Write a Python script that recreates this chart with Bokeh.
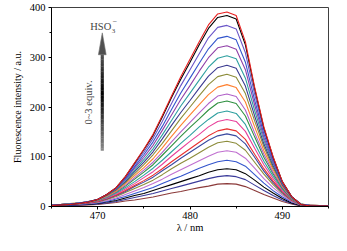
from bokeh.plotting import figure
from bokeh.models import FixedTicker, Label, Range1d
from bokeh.embed import file_html
from bokeh.resources import INLINE

wavelength = list(range(465, 496))

# Fluorescence spectra, from 0 equiv. (bottom) to 3 equiv. (top) HSO3-
c01 = [1, 1, 2, 2, 3, 4, 6, 8, 11, 13, 16, 19, 23, 27, 30, 34, 38, 41, 45, 46, 45, 40, 32, 24, 17, 10, 5, 1, 1, 1, 1]
c02 = [1, 2, 2, 3, 4, 5, 7, 10, 14, 18, 22, 26, 31, 36, 41, 46, 51, 56, 60, 62, 60, 54, 43, 32, 22, 13, 6, 2, 1, 1, 1]
c03 = [1, 2, 3, 4, 4, 6, 9, 12, 17, 22, 26, 32, 38, 44, 50, 56, 62, 69, 74, 76, 74, 66, 53, 39, 27, 16, 7, 2, 1, 1, 1]
c04 = [2, 3, 3, 4, 5, 7, 10, 15, 20, 26, 32, 38, 46, 54, 61, 69, 77, 84, 90, 93, 90, 81, 64, 47, 32, 19, 9, 3, 2, 2, 2]
c05 = [2, 3, 4, 5, 6, 8, 12, 17, 24, 31, 38, 46, 55, 65, 74, 83, 92, 101, 109, 112, 109, 97, 77, 56, 38, 23, 10, 3, 2, 2, 2]
c06 = [2, 3, 4, 5, 7, 9, 14, 20, 28, 36, 44, 53, 64, 76, 87, 97, 108, 119, 128, 131, 127, 113, 89, 65, 44, 26, 12, 3, 2, 2, 2]
c07 = [2, 3, 5, 6, 7, 10, 15, 22, 30, 40, 49, 59, 72, 84, 97, 109, 121, 133, 142, 146, 142, 126, 99, 71, 48, 28, 13, 4, 2, 2, 2]
c08 = [2, 4, 5, 6, 7, 10, 16, 23, 32, 42, 52, 63, 76, 90, 103, 116, 129, 142, 152, 156, 152, 135, 105, 76, 51, 30, 13, 4, 2, 2, 2]
c09 = [3, 4, 5, 6, 8, 11, 17, 25, 35, 46, 58, 70, 85, 101, 116, 131, 145, 160, 171, 175, 171, 151, 117, 84, 56, 32, 14, 4, 2, 2, 2]
c10 = [3, 4, 5, 7, 8, 12, 18, 27, 38, 50, 63, 77, 93, 110, 127, 143, 160, 175, 188, 192, 187, 165, 127, 91, 61, 35, 15, 4, 2, 2, 2]
c11 = [3, 4, 5, 7, 9, 12, 20, 29, 41, 55, 69, 84, 103, 122, 141, 159, 176, 194, 208, 212, 207, 182, 140, 99, 66, 37, 16, 4, 3, 2, 2]
c12 = [3, 4, 5, 7, 9, 13, 20, 30, 43, 58, 73, 89, 109, 130, 150, 169, 188, 207, 222, 226, 221, 194, 148, 105, 69, 39, 17, 4, 3, 2, 2]
c13 = [3, 4, 6, 7, 9, 13, 21, 31, 46, 62, 78, 96, 118, 141, 163, 184, 205, 225, 240, 245, 239, 210, 160, 112, 74, 41, 18, 5, 3, 2, 2]
c14 = [3, 4, 6, 7, 10, 14, 22, 33, 48, 66, 84, 104, 127, 152, 177, 200, 223, 245, 261, 266, 260, 227, 172, 120, 78, 43, 18, 5, 2, 2, 2]
c15 = [3, 4, 5, 7, 10, 14, 23, 34, 50, 70, 89, 110, 136, 163, 189, 213, 238, 262, 279, 284, 278, 242, 182, 126, 82, 44, 19, 5, 2, 2, 2]
c16 = [3, 4, 5, 7, 10, 14, 23, 35, 53, 73, 94, 116, 144, 173, 202, 228, 254, 280, 298, 303, 297, 258, 193, 133, 86, 46, 19, 5, 2, 2, 2]
c17 = [3, 4, 5, 7, 10, 14, 24, 36, 55, 77, 99, 123, 153, 184, 215, 243, 272, 299, 319, 323, 316, 275, 204, 139, 89, 47, 20, 4, 2, 2, 2]
c18 = [2, 4, 5, 7, 9, 14, 24, 37, 56, 80, 104, 130, 161, 195, 228, 258, 288, 317, 338, 342, 335, 290, 214, 146, 93, 48, 20, 4, 2, 2, 2]
c19 = [2, 3, 4, 6, 9, 14, 24, 37, 58, 84, 109, 137, 171, 207, 243, 275, 307, 339, 360, 364, 357, 309, 226, 152, 96, 49, 20, 4, 2, 1, 1]
c20 = [2, 3, 4, 6, 9, 14, 24, 38, 60, 87, 114, 143, 180, 219, 256, 290, 325, 358, 380, 384, 377, 325, 237, 158, 99, 50, 20, 4, 1, 1, 1]
c21 = [2, 3, 4, 6, 9, 14, 24, 38, 60, 88, 115, 145, 183, 222, 261, 296, 331, 365, 387, 391, 384, 331, 240, 160, 100, 50, 20, 4, 1, 1, 1]

curve_colors = ["#8b3a3a", "#3a3a9a", "#000000", "#3355cc", "#c070d0", "#8c8c3a",
                "#3a4aa0", "#e83030", "#e8409a", "#2fa0a0", "#2f9040", "#b060c8",
                "#ff8030", "#8c8c3a", "#3a3a90", "#2fa0a0", "#9040a8", "#3355cc",
                "#6a55c8", "#000000", "#e82020"]

x_ticks = [470, 480, 490]
x_minor = [465, 475, 485, 495]
y_ticks = [0, 100, 200, 300, 400]
y_minor = [50, 150, 250, 350]

spectra = [c01, c02, c03, c04, c05, c06, c07, c08, c09, c10, c11,
           c12, c13, c14, c15, c16, c17, c18, c19, c20, c21]

FONT = "Liberation Serif"

p = figure(width=331, height=235, output_backend="svg", toolbar_location=None,
           x_range=Range1d(465, 495), y_range=Range1d(0, 400),
           min_border_left=51, min_border_right=3, min_border_top=7, min_border_bottom=25)
p.background_fill_color = "white"
p.border_fill_color = "white"
p.xgrid.visible = False
p.ygrid.visible = False
p.outline_line_color = "#404040"
p.outline_line_width = 1

for ys, col in zip(spectra, curve_colors):
    p.line(wavelength, ys, line_color=col, line_width=1.1)

# axes
p.xaxis.ticker = FixedTicker(ticks=x_ticks, minor_ticks=x_minor)
p.yaxis.ticker = FixedTicker(ticks=y_ticks, minor_ticks=y_minor)
for ax in (p.xaxis[0], p.yaxis[0]):
    ax.axis_line_color = "black"
    ax.major_tick_line_color = "black"
    ax.minor_tick_line_color = "black"
    ax.major_tick_out = 3
    ax.major_tick_in = 0
    ax.minor_tick_out = 2
    ax.minor_tick_in = 0
    ax.major_label_text_font = FONT
    ax.major_label_text_font_size = "10.5px"
    ax.major_label_text_color = "black"
    ax.axis_label_text_font = FONT
    ax.axis_label_text_font_style = "normal"
    ax.axis_label_text_font_size = "10.5px"
    ax.axis_label_text_color = "black"
p.xaxis.major_label_standoff = 2
p.yaxis.major_label_standoff = 3
p.xaxis.axis_label = "λ / nm"
p.xaxis.axis_label_standoff = 0
p.yaxis.axis_label = "Fluorescence intensity / a.u."
p.yaxis.axis_label_standoff = 4
p.yaxis.axis_label_text_font_size = "10px"

# gradient arrow (annotation)
ax_x = 470.5
shaft_bottom, shaft_top, head_tip = 112, 305, 349
n = 40
step = (shaft_top - shaft_bottom) / n
for i in range(n):
    t = i / (n - 1)
    # lighter at bottom, black near the middle, dark grey at top
    if t < 0.6:
        g = int(0x88 * (1 - t / 0.6))
    else:
        g = int(0x50 * (t - 0.6) / 0.4)
    c = "#%02x%02x%02x" % (g, g, g)
    p.quad(left=ax_x - 0.17, right=ax_x + 0.17,
           bottom=shaft_bottom + i * step, top=shaft_bottom + (i + 1) * step + 0.5,
           fill_color=c, line_color=None)
p.patch([ax_x - 0.42, ax_x + 0.42, ax_x], [shaft_top, shaft_top, head_tip],
        fill_color="#505050", line_color="#707070", line_width=0.6)

p.add_layout(Label(x=469.2, y=362, text="HSO", text_font=FONT, text_font_size="10.5px",
                   text_baseline="middle", text_align="left"))
p.add_layout(Label(x=471.52, y=353, text="3", text_font=FONT, text_font_size="7px",
                   text_baseline="middle", text_align="left"))
p.add_layout(Label(x=471.6, y=373, text="−", text_font=FONT, text_font_size="8px",
                   text_baseline="middle", text_align="left"))
p.add_layout(Label(x=469.0, y=209, text="0~3 equiv.", text_font=FONT, text_font_size="10.5px",
                   text_baseline="middle", text_align="center", angle=1.5708))

open("out.html", "w").write(file_html(p, INLINE))
